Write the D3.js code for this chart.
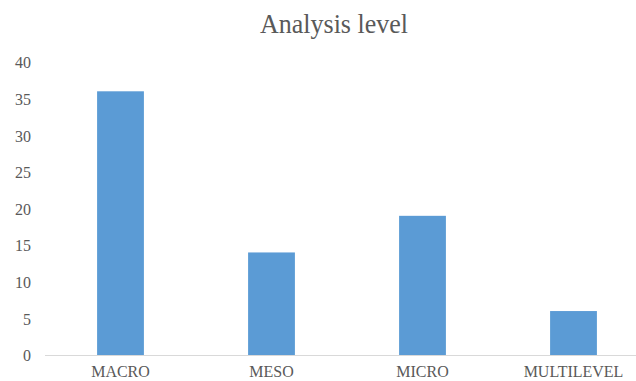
<!DOCTYPE html>
<html>
<head>
<meta charset="utf-8">
<script src="https://cdn.jsdelivr.net/npm/d3@7"></script>
<style>
  html, body { margin: 0; padding: 0; background: #fff; }
  svg { display: block; }
  text { font-family: "Liberation Serif", "Times New Roman", serif; fill: #595959; }
</style>
</head>
<body>
<svg id="chart" width="636" height="381"></svg>
<script>
// Chart data
const categories = ["MACRO", "MESO", "MICRO", "MULTILEVEL"];
const values = [36, 14, 19, 6];
const yTicks = [0, 5, 10, 15, 20, 25, 30, 35, 40];
const title = "Analysis level";

const width = 636, height = 381;
const svg = d3.select("#chart");
const serif = "'Liberation Serif', 'Times New Roman', serif";

const x = d3.scaleBand()
  .domain(categories)
  .range([45, 649])
  .paddingInner(0.69)
  .paddingOuter(0.345);

const y = d3.scaleLinear()
  .domain([0, 40])
  .range([355, 62]);

// Title (glyphs slightly tall, as in the source typesetting)
svg.append("text")
  .attr("transform", "translate(334,33) scale(1,1.08)")
  .attr("text-anchor", "middle")
  .style("font-size", "26px")
  .text(title);

// Y axis labels (no axis line, no gridlines)
const yAxis = d3.axisLeft(y).tickValues(yTicks).tickSize(0).tickPadding(0);
const yg = svg.append("g").attr("transform", "translate(31,0)").call(yAxis);
yg.select(".domain").remove();
yg.selectAll("text")
  .style("font-size", "16px")
  .style("font-family", serif)
  .attr("fill", "#595959")
  .attr("x", 0)
  .attr("dy", "0.33em")
  .attr("transform", "scale(1,1.1)");

// Bars
svg.append("g").selectAll("rect")
  .data(values)
  .join("rect")
  .attr("x", (d, i) => x(categories[i]))
  .attr("y", d => y(d))
  .attr("width", x.bandwidth())
  .attr("height", d => y(0) - y(d))
  .attr("fill", "#5B9BD5");

// Category axis baseline and labels
const xAxis = d3.axisBottom(x).tickSize(0).tickPadding(0);
const xg = svg.append("g").attr("transform", `translate(0,${y(0)})`).call(xAxis);
xg.select(".domain").remove();
xg.append("line")
  .attr("x1", 45).attr("x2", 636)
  .attr("y1", 0.5).attr("y2", 0.5)
  .attr("stroke", "#D9D9D9")
  .attr("stroke-width", 1);
xg.selectAll(".tick text")
  .style("font-size", "16px")
  .style("font-family", serif)
  .attr("fill", "#595959")
  .attr("y", 20)
  .attr("dy", 0)
  .attr("transform", "scale(1,1.1)");
</script>
</body>
</html>
